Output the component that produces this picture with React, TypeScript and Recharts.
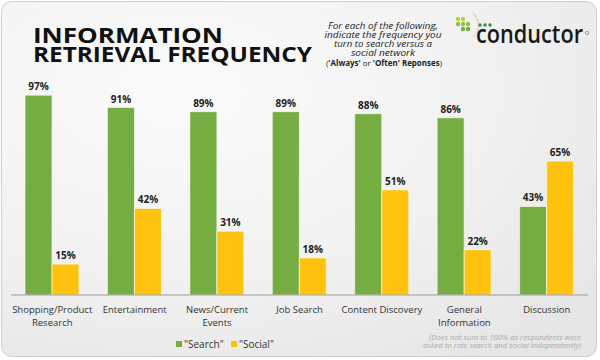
import React from 'react';
import { BarChart, Bar, XAxis, YAxis, LabelList } from 'recharts';

const categories = [
  'Shopping/Product Research',
  'Entertainment',
  'News/Current Events',
  'Job Search',
  'Content Discovery',
  'General Information',
  'Discussion',
];
const searchValues = [97, 91, 89, 89, 88, 86, 43];
const socialValues = [15, 42, 31, 18, 51, 22, 65];

// two-line tick labels
const tickLines: Record<string, string[]> = {
  'Shopping/Product Research': ['Shopping/Product', 'Research'],
  'News/Current Events': ['News/Current', 'Events'],
  'General Information': ['General', 'Information'],
};

const data = categories.map((name, i) => ({
  name,
  search: searchValues[i],
  social: socialValues[i],
}));

const GREEN = '#76ad42';
const YELLOW = '#ffc30f';
const FONT = '"Open Sans", "Noto Sans", sans-serif';

const CategoryTick = (props: any) => {
  const { x, y, payload } = props;
  const lines = tickLines[payload.value] || [payload.value];
  return (
    <text x={x} y={y} textAnchor="middle" fill="#333" fontSize={9.5} fontFamily={FONT}>
      {lines.map((l, i) => (
        <tspan key={i} x={x} dy={i === 0 ? 10 : 13}>
          {l}
        </tspan>
      ))}
    </text>
  );
};

export default function App() {
  return (
    <div style={{ position: 'absolute', left: 0, top: 0, width: 600, height: 360, background: '#fff' }}>
      <svg width={600} height={360} style={{ position: 'absolute', left: 0, top: 0 }}>
        <defs>
          <radialGradient id="bg" cx="0.3" cy="0.25" r="0.9">
            <stop offset="0%" stopColor="#fbfbfb" />
            <stop offset="60%" stopColor="#f1f1f1" />
            <stop offset="100%" stopColor="#e6e6e6" />
          </radialGradient>
        </defs>
        <rect x={1.5} y={1.5} width={595} height={355} rx={10} fill="url(#bg)" stroke="#cfcfcf" />
      </svg>

      <div style={{ position: 'absolute', left: 0, top: 0 }}>
        <BarChart
          width={600}
          height={360}
          data={data}
          margin={{ top: 89, right: 12, bottom: 25, left: 11 }}
          barCategoryGap="17%"
          barGap={0}
        >
          <XAxis
            dataKey="name"
            height={40}
            axisLine={{ stroke: '#9a9a9a' }}
            tickLine={false}
            interval={0}
            tick={<CategoryTick />}
          />
          <YAxis hide domain={[0, 100]} />
          <Bar dataKey="search" fill={GREEN} stroke="#fff" strokeWidth={0.6} isAnimationActive={false}>
            <LabelList
              dataKey="search"
              position="top"
              offset={5}
              formatter={(v: any) => `${v}%`}
              style={{ fontSize: 10, fontWeight: 700, fill: '#222', fontFamily: FONT }}
            />
          </Bar>
          <Bar dataKey="social" fill={YELLOW} stroke="#fff" strokeWidth={0.6} isAnimationActive={false}>
            <LabelList
              dataKey="social"
              position="top"
              offset={5}
              formatter={(v: any) => `${v}%`}
              style={{ fontSize: 10, fontWeight: 700, fill: '#222', fontFamily: FONT }}
            />
          </Bar>
        </BarChart>
      </div>

      {/* header, logo, legend, footnote */}
      <svg width={600} height={360} style={{ position: 'absolute', left: 0, top: 0, pointerEvents: 'none' }}>
        <g fontFamily={FONT} fontWeight={700} fontSize={22} fill="#111">
          <text x={33} y={43} textLength={190} lengthAdjust="spacingAndGlyphs">INFORMATION</text>
          <text x={33} y={62} textLength={279} lengthAdjust="spacingAndGlyphs">RETRIEVAL FREQUENCY</text>
        </g>

        <g fontFamily={FONT} fontStyle="italic" fontSize={9} fill="#222" textAnchor="middle">
          <text x={383} y={29} textLength={110} lengthAdjust="spacingAndGlyphs">For each of the following,</text>
          <text x={383} y={38} textLength={117} lengthAdjust="spacingAndGlyphs">indicate the frequency you</text>
          <text x={383} y={47} textLength={98} lengthAdjust="spacingAndGlyphs">turn to search versus a</text>
          <text x={383} y={56} textLength={64} lengthAdjust="spacingAndGlyphs">social network</text>
        </g>
        <text x={384} y={66} textAnchor="middle" fontFamily={FONT} fontSize={8} fill="#222" textLength={116} lengthAdjust="spacingAndGlyphs">
          (<tspan fontWeight={700}>'Always'</tspan> or <tspan fontWeight={700}>'Often'</tspan>
          <tspan fontWeight={700}> Reponses</tspan>)
        </text>

        {/* logo */}
        <g>
          <circle cx={458} cy={19} r={2.2} fill="#b5d334" />
          <circle cx={463} cy={19} r={2.2} fill="#b5d334" />
          <circle cx={458} cy={24} r={2.2} fill="#8cc63f" />
          <circle cx={463} cy={24} r={2.2} fill="#8cc63f" />
          <circle cx={468} cy={24} r={2.2} fill="#8cc63f" />
          <circle cx={463} cy={29} r={2.2} fill="#6cb33f" />
          <circle cx={468} cy={29} r={2.2} fill="#6cb33f" />
          <path d="M473 13 Q484 25 473 37" fill="none" stroke="#e6cfc5" strokeWidth={1.2} />
          <circle cx={480} cy={25} r={1.7} fill="#2f8f3a" />
          <circle cx={485} cy={25} r={1.7} fill="#2f8f3a" />
          <circle cx={490} cy={25} r={1.7} fill="#2f8f3a" />
          <text x={476} y={43} fontFamily={FONT} fontWeight={600} fontSize={25} fill="#1a1a1a" textLength={107} lengthAdjust="spacingAndGlyphs">conductor</text>
          <circle cx={587} cy={33} r={1.6} fill="none" stroke="#555" strokeWidth={0.5} />
        </g>

        {/* legend */}
        <rect x={176} y={341} width={6} height={6} fill={GREEN} />
        <text x={184} y={348} fontFamily={FONT} fontSize={10} fill="#333">"Search"</text>
        <rect x={231} y={341} width={6} height={6} fill={YELLOW} />
        <text x={239} y={348} fontFamily={FONT} fontSize={10} fill="#333">"Social"</text>

        {/* footnote */}
        <g fontFamily={FONT} fontStyle="italic" fontSize={8} fill="#aaa" textAnchor="end">
          <text x={581} y={340} textLength={152} lengthAdjust="spacingAndGlyphs">(Does not sum to 100% as respondents were</text>
          <text x={581} y={348} textLength={158} lengthAdjust="spacingAndGlyphs">asked to rate search and social independently)</text>
        </g>
      </svg>
    </div>
  );
}
